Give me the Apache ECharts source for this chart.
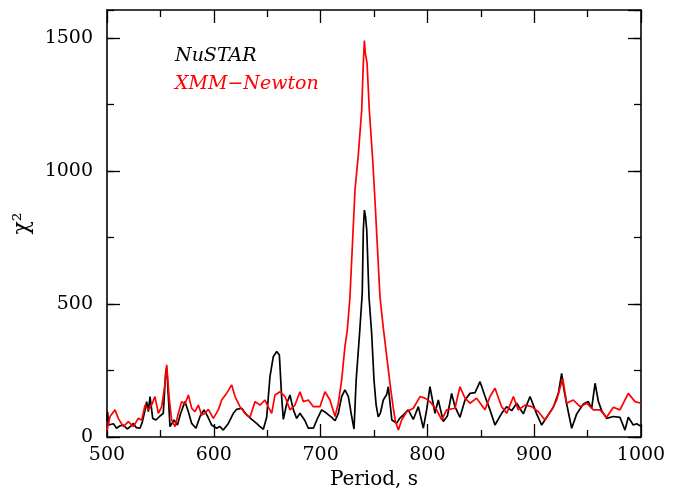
<!DOCTYPE html>
<html>
<head>
<meta charset="utf-8">
<script src="https://cdn.jsdelivr.net/npm/echarts@6/dist/echarts.min.js"></script>
<style>
  html, body { margin: 0; padding: 0; background: #fff; }
  #chart { width: 676px; height: 490px; }
</style>
</head>
<body>
<div id="chart"></div>
<script>
// periodogram values (period in s, chi^2)
const nustarPeriod = [
  500, 500.5, 501.5, 503, 506, 509, 512, 515.3, 519, 522, 524.7, 527.5, 530.9, 533, 535.6, 537.1, 538.7, 540.3,
  542.8, 545.9, 549.6, 552.7, 554.9, 555.9, 557.1, 559, 562.7, 565.9, 569, 573, 576.2, 579.3, 583.3, 587.1,
  590.8, 594, 598, 602.7, 605.5, 608.9, 613.6, 618.3, 621.4, 626.1, 630.8, 635.5, 640.1, 643, 646.4, 649.5,
  652.6, 655.7, 658.9, 661.4, 663.5, 665.1, 668.2, 671.3, 674.5, 677.6, 680.7, 685.4, 688.5, 693.2, 697.9,
  701, 705.7, 710.4, 713.5, 716.6, 719.7, 722.8, 726, 729.1, 731.3, 733.3, 736.5, 739, 740, 741, 742, 743.2,
  745.3, 747.8, 750, 752, 754, 756, 758.7, 761.9, 763.4, 766.7, 771.3, 774, 777.5, 782.1, 786.8, 791.5, 796.2,
  799.3, 802.4, 807.1, 810.2, 814.9, 818.7, 822.7, 825.8, 830.5, 835.2, 839.9, 844.6, 849.3, 854, 858.6, 863.3,
  869.5, 874.2, 878.9, 883.6, 889.8, 896.1, 902.3, 907, 911.7, 917.9, 922.6, 925.7, 927.9, 930.4, 935.1, 939.8,
  946, 950.7, 953.8, 957, 960.1, 963.2, 967.8, 974.1, 980.3, 985, 988.1, 992.8, 996, 1000
]
const nustarChi2 = [
  60, 95, 45, 38, 50, 33, 42, 45, 30, 40, 51, 35, 33, 55, 101, 133, 95, 152,
  70, 64, 79, 89, 240, 262, 177, 39, 64, 45, 89, 133, 95, 51, 33, 77,
  102, 79, 45, 33, 40, 26, 51, 89, 104, 108, 83, 66, 51, 40, 29, 74,
  227, 302, 321, 308, 152, 66, 124, 158, 102, 70, 89, 61, 33, 33, 77,
  102, 89, 74, 61, 89, 152, 177, 152, 77, 30, 214, 390, 540, 778, 853, 830, 778,
  527, 390, 214, 120, 76, 90, 139, 160, 189, 64, 52, 70, 83, 102, 66, 114, 33,
  102, 189, 89, 139, 58, 79, 164, 114, 74, 139, 164, 167, 208, 152, 102, 45,
  89, 114, 99, 127, 87, 152, 87, 45, 74, 112, 164, 239, 177, 124, 33, 87,
  124, 133, 108, 202, 133, 99, 70, 77, 74, 26, 74, 45, 50, 40
]

const xmmPeriod = [
  500, 502.8, 507.5, 510.6, 515.3, 520, 524.7, 529.3, 532.5, 535.6, 538.7, 541.8, 544.9, 548.1, 551.2, 554,
  555.9, 558.1, 560.5, 563.7, 566.8, 569.9, 573, 576.2, 579.3, 582.4, 585.5, 588.6, 591.8, 594.9, 599.6,
  604.2, 607.4, 612, 616.7, 619.9, 624.5, 629.2, 633.9, 638.6, 643.3, 647.9, 651.1, 654.2, 657.3, 662,
  666.7, 671.3, 676, 680.7, 683.8, 688.5, 693.2, 699.4, 704.1, 708.8, 713.5, 716.6, 719.7, 722.8, 725,
  727.5, 732.2, 735.3, 738.5, 740, 741, 742, 743.5, 745.6, 748.8, 750.9, 755.6, 758.7, 762, 765, 768, 770,
  772.8, 775.9, 780.6, 786.8, 793.1, 797.7, 802.4, 808.7, 813.4, 818, 825.8, 830.5, 835.2, 839.9, 846.1,
  853.9, 858.6, 863.3, 869.5, 874.2, 880.5, 885.1, 891.4, 897.6, 903.9, 910.1, 916.3, 921, 926.7, 930.4,
  936.6, 942.9, 949.1, 955.4, 961.6, 967.8, 974.1, 980.3, 988.1, 994.4, 1000
]
const xmmChi2 = [
  26, 77, 102, 70, 39, 58, 39, 70, 64, 120, 102, 120, 152, 89, 114, 189,
  271, 152, 64, 39, 89, 133, 124, 158, 108, 95, 120, 83, 89, 104, 70,
  102, 139, 164, 196, 152, 114, 89, 74, 133, 120, 139, 112, 89, 158, 170,
  152, 102, 120, 170, 133, 139, 114, 114, 170, 139, 77, 127, 214, 340, 402,
  527, 928, 1060, 1229, 1405, 1490, 1440, 1405, 1229, 1041, 891, 527, 410, 300, 200, 110, 60,
  26, 64, 95, 108, 152, 146, 133, 102, 64, 102, 108, 189, 146, 127, 146,
  102, 152, 183, 114, 89, 152, 102, 120, 114, 95, 64, 102, 139, 220, 127,
  139, 114, 127, 102, 102, 74, 112, 102, 164, 133, 127
]

const FONT = 'DejaVu Serif'

function pairs(xs, ys) {
  return xs.map((x, i) => [x, ys[i]])
}

// plain numbers, no thousands separator
const plain = v => String(v)

const tickStyle = { color: '#000', width: 1.3 }

function xAxisCfg(pos, withLabels) {
  return {
    type: 'value',
    position: pos,
    min: 500,
    max: 1000,
    interval: 100,
    axisLine: { onZero: false, lineStyle: { color: '#000', width: 1.6 } },
    axisTick: { inside: true, length: 13, lineStyle: tickStyle },
    minorTick: { show: true, splitNumber: 2, length: 7, lineStyle: tickStyle },
    splitLine: { show: false },
    minorSplitLine: { show: false },
    axisLabel: { show: withLabels, formatter: plain, fontFamily: FONT, fontSize: 19, color: '#000', margin: 9 },
    name: withLabels ? 'Period, s' : '',
    nameLocation: 'middle',
    nameGap: 29,
    nameTextStyle: { fontFamily: FONT, fontSize: 20, color: '#000' }
  }
}

// major (500) and minor (250) ticks on separate axes so no odd tick lands above 1500
function yAxisCfg(pos, major, withLabels) {
  return {
    type: 'value',
    position: pos,
    min: 0,
    max: 1605,
    interval: major ? 500 : 250,
    axisLine: { show: major, onZero: false, lineStyle: { color: '#000', width: 1.6 } },
    axisTick: { inside: true, length: major ? 13 : 7, lineStyle: tickStyle },
    splitLine: { show: false },
    axisLabel: { show: withLabels, showMaxLabel: false, formatter: plain, fontFamily: FONT, fontSize: 19, color: '#000', margin: 14 },
    name: withLabels ? 'χ²' : '',
    nameLocation: 'middle',
    nameGap: 63,
    nameTextStyle: { fontFamily: FONT, fontSize: 22, color: '#000' }
  }
}

const chart = echarts.init(document.getElementById('chart'), null, { renderer: 'canvas' })

chart.setOption({
  animation: false,
  backgroundColor: '#fff',
  grid: { left: 107, right: 35, top: 10, bottom: 53, containLabel: false, outerBoundsMode: 'none' },
  legend: {
    orient: 'vertical',
    left: 164,
    top: 41,
    itemWidth: 0,
    itemHeight: 1,
    itemGap: 8,
    selectedMode: false,
    itemStyle: { opacity: 0 },
    lineStyle: { opacity: 0 },
    textStyle: { fontFamily: FONT, fontStyle: 'italic', fontSize: 19, lineHeight: 20 },
    data: [
      { name: 'NuSTAR', textStyle: { color: '#000' } },
      { name: 'XMM−Newton', textStyle: { color: '#ff0000' } }
    ]
  },
  xAxis: [xAxisCfg('bottom', true), xAxisCfg('top', false)],
  yAxis: [
    yAxisCfg('left', true, true),
    yAxisCfg('left', false, false),
    yAxisCfg('right', true, false),
    yAxisCfg('right', false, false)
  ],
  series: [
    {
      name: 'NuSTAR',
      type: 'line',
      xAxisIndex: 0,
      yAxisIndex: 0,
      symbol: 'none',
      data: pairs(nustarPeriod, nustarChi2),
      itemStyle: { color: '#000' },
      lineStyle: { color: '#000', width: 1.7 }
    },
    {
      name: 'XMM−Newton',
      type: 'line',
      xAxisIndex: 0,
      yAxisIndex: 0,
      symbol: 'none',
      data: pairs(xmmPeriod, xmmChi2),
      itemStyle: { color: '#ff0000' },
      lineStyle: { color: '#ff0000', width: 1.7 }
    }
  ]
})
</script>
</body>
</html>
